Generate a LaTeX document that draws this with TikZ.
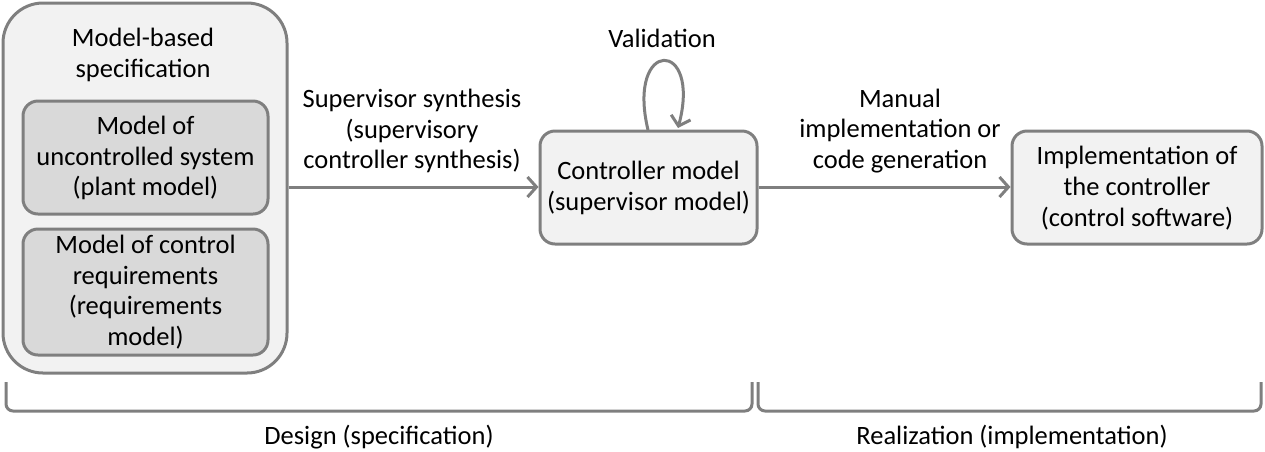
\documentclass[tikz,border=0pt]{standalone}
\usepackage{fontspec}
\setmainfont{Carlito}
\usetikzlibrary{arrows.meta}
\definecolor{edgegray}{HTML}{7F7F7F}
\definecolor{lightfill}{HTML}{F2F2F2}
\definecolor{darkfill}{HTML}{D9D9D9}
\begin{document}
\begin{tikzpicture}[x=1pt,y=-1pt,
  txt/.style={font=\fontsize{26.5}{30.7}\selectfont, align=center, inner sep=0pt},
  box/.style={draw=edgegray, line width=3pt, rounded corners=15pt, inner sep=0pt},
  conn/.style={draw=edgegray, line width=3pt, -{Straight Barb[length=9pt,width=20pt,line width=3pt]}},
  brace/.style={draw=edgegray, line width=3pt, rounded corners=7pt}
]
\useasboundingbox (0,0) rectangle (1265,451);
% outer specification box
\node[box, fill=lightfill, rounded corners=40pt, minimum width=284pt, minimum height=370pt] (spec) at (145,188) {};
\node[txt] (spectxt) at (143,55) {Model-based\\specification};
\node[box, fill=darkfill, minimum width=245pt, minimum height=113pt] (plant) at (145.5,157.5) {};
\node[txt] (planttxt) at (145.5,158) {Model of\\uncontrolled system\\(plant model)};
\node[box, fill=darkfill, minimum width=245pt, minimum height=126pt] (req) at (145.5,292) {};
\node[txt] (reqtxt) at (145.5,292) {Model of control\\requirements\\(requirements\\model)};
% controller
\node[box, fill=lightfill, minimum width=217pt, minimum height=113pt] (ctrl) at (648.5,187.5) {};
\node[txt] (ctrltxt) at (648.5,188) {Controller model\\(supervisor model)};
% implementation
\node[box, fill=lightfill, minimum width=250pt, minimum height=113pt] (impl) at (1137,187.5) {};
\node[txt] (impltxt) at (1137,188) {Implementation of\\the controller\\(control software)};
% connectors
\draw[conn] (spec.east |- 0,187) -- (ctrl.west |- 0,187);
\node[txt] (synlbl) at (412,131) {Supervisor synthesis\\(supervisory\\controller synthesis)};
\draw[conn] (ctrl.east |- 0,187) -- (impl.west |- 0,187);
\node[txt] (genlbl) at (900,131) {Manual\\implementation or\\code generation};
% validation loop
\coordinate (loopa) at (648,130);
\coordinate (loopb) at (678,128);
\draw[conn] (loopa) .. controls (626,38) and (702,38) .. (loopb);
\node[txt] (vallbl) at (662,38) {Validation};
% brackets
\coordinate (b1a) at (6,382);
\coordinate (b1b) at (752,382);
\draw[brace] (b1a) -- (6,411) -- (752,411) -- (b1b);
\node[txt] (deslbl) at (379,437) {Design (specification)};
\coordinate (b2a) at (758,382);
\coordinate (b2b) at (1261,382);
\draw[brace] (b2a) -- (758,411) -- (1261,411) -- (b2b);
\node[txt] (reallbl) at (1012,437) {Realization (implementation)};
\end{tikzpicture}
\end{document}
